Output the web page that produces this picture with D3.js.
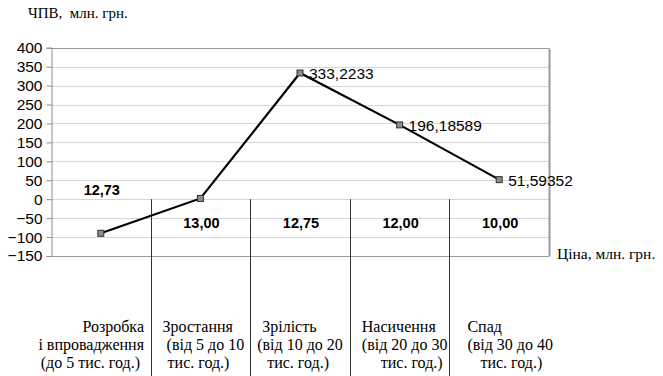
<!DOCTYPE html>
<html>
<head>
<meta charset="utf-8">
<script src="https://cdn.jsdelivr.net/npm/d3@7/dist/d3.min.js"></script>
<style>
  html, body { margin: 0; padding: 0; background: #fff; }
  svg { display: block; }
</style>
</head>
<body>
<svg id="chart" width="663" height="376"></svg>
<script>
// Life-cycle stages of the product
const stages = ["Розробка", "Зростання", "Зрілість", "Насичення", "Спад"];
// Stage captions, line by line
const stageLines = [
  ["Розробка", "і впровадження", "(до 5 тис. год.)"],
  ["Зростання", "(від 5 до 10", "тис. год.)"],
  ["Зрілість", "(від 10 до 20", "тис. год.)"],
  ["Насичення", "(від 20 до 30", "тис. год.)"],
  ["Спад", "(від 30 до 40", "тис. год.)"]
];
// Net present value per stage, mln UAH
const npv = [-90, 2, 333.2233, 196.18589, 51.59352];
// Value labels shown next to the points
const npvLabels = ["", "", "333,2233", "196,18589", "51,59352"];
// Price per stage, mln UAH
const prices = ["12,73", "13,00", "12,75", "12,00", "10,00"];
// Y axis ticks
const yTicks = [-150, -100, -50, 0, 50, 100, 150, 200, 250, 300, 350, 400];

const SANS = "Liberation Sans, Arial, sans-serif";
const SERIF = "Liberation Serif, Times New Roman, DejaVu Serif, serif";

const svg = d3.select("#chart");
const plotLeft = 51, plotRight = 549, plotTop = 47.7, plotBottom = 256;

const x = d3.scaleBand().domain(stages).range([plotLeft, plotRight]).paddingInner(0).paddingOuter(0);
const y = d3.scaleLinear().domain([-150, 400]).range([plotBottom, plotTop]);
const cx = s => x(s) + x.bandwidth() / 2;

// Horizontal gridlines
svg.append("g").selectAll("line").data(yTicks).join("line")
  .attr("x1", plotLeft).attr("x2", plotRight)
  .attr("y1", d => Math.round(y(d)) + 0.5).attr("y2", d => Math.round(y(d)) + 0.5)
  .attr("stroke", d => (d === 400 || d === -150) ? "#9a9a9a" : "#d6d6d6")
  .attr("stroke-width", 1);

// Right border of the plot area
svg.append("line")
  .attr("x1", plotRight + 0.5).attr("x2", plotRight + 0.5)
  .attr("y1", Math.round(y(400)) + 0.5).attr("y2", Math.round(y(-150)) + 0.5)
  .attr("stroke", "#9a9a9a").attr("stroke-width", 2);

// Y axis
const yAxis = d3.axisLeft(y).tickValues(yTicks).tickSize(5).tickPadding(4).tickFormat(d3.format("d"));
const ya = svg.append("g").attr("transform", `translate(${plotLeft + 0.5},0)`).call(yAxis);
ya.attr("font-family", SANS).attr("font-size", 15.5);
ya.select(".domain").attr("stroke", "#8a8a8a");
ya.selectAll(".tick line").attr("stroke", "#8a8a8a");
ya.selectAll(".tick text").attr("fill", "#000");

// Stage dividers, from the zero line down to the captions
const dividers = stages.slice(1);
svg.append("g").selectAll("line").data(dividers).join("line")
  .attr("x1", d => Math.round(x(d)) + 0.5).attr("x2", d => Math.round(x(d)) + 0.5)
  .attr("y1", y(0)).attr("y2", 376)
  .attr("stroke", "#333").attr("stroke-width", 1);

// NPV line
const line = d3.line().x((d, i) => cx(stages[i])).y(d => y(d));
svg.append("path").datum(npv)
  .attr("d", line).attr("fill", "none")
  .attr("stroke", "#000").attr("stroke-width", 2.2);

// Markers
svg.append("g").selectAll("rect").data(npv).join("rect")
  .attr("x", (d, i) => cx(stages[i]) - 3).attr("y", d => y(d) - 3)
  .attr("width", 6).attr("height", 6)
  .attr("fill", "#8c8c8c").attr("stroke", "#333").attr("stroke-width", 1);

// Point value labels
svg.append("g").selectAll("text").data(npv).join("text")
  .attr("font-family", SANS).attr("font-size", 15.5)
  .attr("x", (d, i) => cx(stages[i]) + 9).attr("y", d => y(d) + 6)
  .text((d, i) => npvLabels[i]);

// Price labels
svg.append("g").selectAll("text").data(prices).join("text")
  .attr("font-family", SANS).attr("font-size", 14.5).attr("font-weight", "bold")
  .attr("text-anchor", "middle")
  .attr("x", (d, i) => cx(stages[i]) + 1)
  .attr("y", (d, i) => i === 0 ? y(0) - 4 : y(0) + 29)
  .text(d => d);

// Axis titles
svg.append("text").attr("font-family", SERIF).attr("font-size", 15)
  .attr("x", 28).attr("y", 18).style("white-space", "pre").text("ЧПВ,  млн. грн.");
svg.append("text").attr("font-family", SERIF).attr("font-size", 15.5)
  .attr("x", 557).attr("y", 259).text("Ціна, млн. грн.");

// Stage captions (per-line horizontal offsets from the band's left edge)
const lineDx = [
  [93, 93, 89],
  [12, 16, 17],
  [12, 7, 17],
  [12, 12, 31],
  [18, 18, 31]
];
const baselines = [332, 350, 368];
stageLines.forEach((lines, i) => {
  const x0 = x(stages[i]);
  lines.forEach((t, j) => {
    svg.append("text").attr("font-family", SERIF).attr("font-size", 16)
      .attr("text-anchor", i === 0 ? "end" : "start")
      .attr("x", x0 + lineDx[i][j]).attr("y", baselines[j])
      .text(t);
  });
});
</script>
</body>
</html>
